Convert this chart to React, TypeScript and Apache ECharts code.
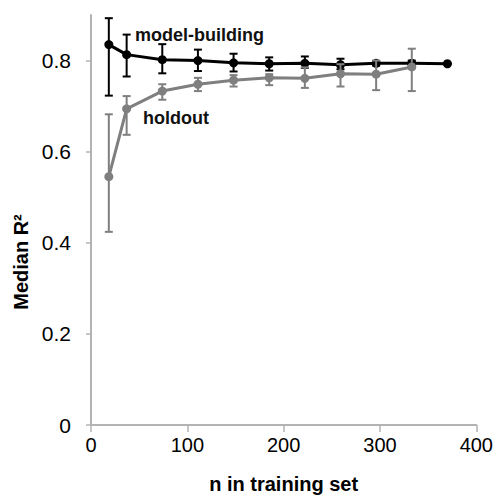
import React, { useEffect, useRef } from "react";
import * as echarts from "echarts";

const nModel = [18.5, 37, 74, 111, 148, 185, 222, 259, 296, 333, 370];
const modelMedian = [0.835, 0.813, 0.802, 0.8, 0.795, 0.793, 0.794, 0.791, 0.794, 0.794, 0.793];
const modelLow = [0.723, 0.765, 0.772, 0.777, 0.776, 0.778, 0.784, 0.781, 0.789, 0.788, 0.793];
const modelHigh = [0.893, 0.857, 0.836, 0.824, 0.815, 0.807, 0.809, 0.804, 0.799, 0.8, 0.793];

const nHold = [18.5, 37, 74, 111, 148, 185, 222, 259, 296, 333];
const holdMedian = [0.545, 0.694, 0.733, 0.748, 0.757, 0.762, 0.761, 0.771, 0.77, 0.786];
const holdLow = [0.424, 0.637, 0.714, 0.733, 0.743, 0.746, 0.74, 0.743, 0.735, 0.733];
const holdHigh = [0.682, 0.722, 0.748, 0.762, 0.768, 0.77, 0.785, 0.792, 0.8, 0.826];

const yTicks = [0, 0.2, 0.4, 0.6, 0.8];
const xTicks = [0, 100, 200, 300, 400];

const BLACK = "#000000";
const GRAY = "#7f7f7f";

function errSeries(name: string, xs: number[], lo: number[], hi: number[], color: string, z: number) {
  return {
    type: "custom",
    name,
    z,
    data: xs.map((x, i) => [x, lo[i], hi[i]]),
    renderItem: (params: any, api: any) => {
      const x = api.value(0);
      const p1 = api.coord([x, api.value(1)]);
      const p2 = api.coord([x, api.value(2)]);
      const hw = 4;
      const style = { stroke: color, lineWidth: 2 };
      return {
        type: "group",
        children: [
          { type: "line", shape: { x1: p1[0], y1: p1[1], x2: p2[0], y2: p2[1] }, style },
          { type: "line", shape: { x1: p1[0] - hw, y1: p1[1], x2: p1[0] + hw, y2: p1[1] }, style },
          { type: "line", shape: { x1: p2[0] - hw, y1: p2[1], x2: p2[0] + hw, y2: p2[1] }, style },
        ],
      };
    },
  };
}

export default function App() {
  const ref = useRef<HTMLDivElement>(null);
  useEffect(() => {
    if (!ref.current) return;
    const chart = echarts.init(ref.current, null, { renderer: "svg" });
    const font = "Liberation Sans, Arial, sans-serif";
    chart.setOption({
      animation: false,
      backgroundColor: "#ffffff",
      grid: { left: 91, right: 19, top: 15, bottom: 67 },
      xAxis: {
        type: "value",
        min: 0,
        max: 400,
        interval: 100,
        name: "n in training set",
        nameLocation: "middle",
        nameGap: 49,
        nameTextStyle: { fontFamily: font, fontSize: 20, fontWeight: "bold", color: "#000" },
        axisLine: { show: true, lineStyle: { color: "#b3b3b3", width: 2 } },
        axisTick: { show: true, length: 7, lineStyle: { color: "#b3b3b3", width: 1.5 }, customValues: xTicks },
        axisLabel: { fontFamily: font, fontSize: 20, color: "#000", margin: 10, customValues: xTicks },
        splitLine: { show: false },
      },
      yAxis: {
        type: "value",
        min: 0,
        max: 0.9,
        interval: 0.2,
        axisLine: { show: true, lineStyle: { color: "#b3b3b3", width: 2 } },
        axisTick: { show: true, length: 5, lineStyle: { color: "#b3b3b3", width: 1.5 }, customValues: yTicks },
        axisLabel: {
          fontFamily: font,
          fontSize: 21,
          color: "#000",
          margin: 20,
          customValues: yTicks,
          formatter: (v: number) => (v === 0 ? "0" : v.toFixed(1)),
        },
        splitLine: { show: false },
      },
      graphic: [
        {
          type: "text",
          x: 21,
          y: 262,
          rotation: Math.PI / 2,
          style: {
            text: "Median R²",
            fontFamily: font,
            fontSize: 20,
            fontWeight: "bold",
            fill: "#000",
            align: "center",
            verticalAlign: "middle",
          },
        },
        {
          type: "text",
          x: 135,
          y: 35,
          style: {
            text: "model-building",
            fontFamily: font,
            fontSize: 18,
            fontWeight: "bold",
            fill: "#111",
            align: "left",
            verticalAlign: "middle",
          },
        },
        {
          type: "text",
          x: 143,
          y: 118,
          style: {
            text: "holdout",
            fontFamily: font,
            fontSize: 18,
            fontWeight: "bold",
            fill: "#111",
            align: "left",
            verticalAlign: "middle",
          },
        },
      ],
      series: [
        errSeries("model-err", nModel, modelLow, modelHigh, BLACK, 2),
        {
          type: "line",
          name: "model-building",
          z: 3,
          data: nModel.map((x, i) => [x, modelMedian[i]]),
          symbol: "circle",
          symbolSize: 9,
          lineStyle: { color: BLACK, width: 3 },
          itemStyle: { color: BLACK },
        },
        errSeries("hold-err", nHold, holdLow, holdHigh, GRAY, 4),
        {
          type: "line",
          name: "holdout",
          z: 5,
          data: nHold.map((x, i) => [x, holdMedian[i]]),
          symbol: "circle",
          symbolSize: 9,
          lineStyle: { color: GRAY, width: 3 },
          itemStyle: { color: GRAY },
        },
      ],
    });
    return () => chart.dispose();
  }, []);
  return <div ref={ref} style={{ width: 496, height: 499, position: "absolute", left: 0, top: 0 }} />;
}
